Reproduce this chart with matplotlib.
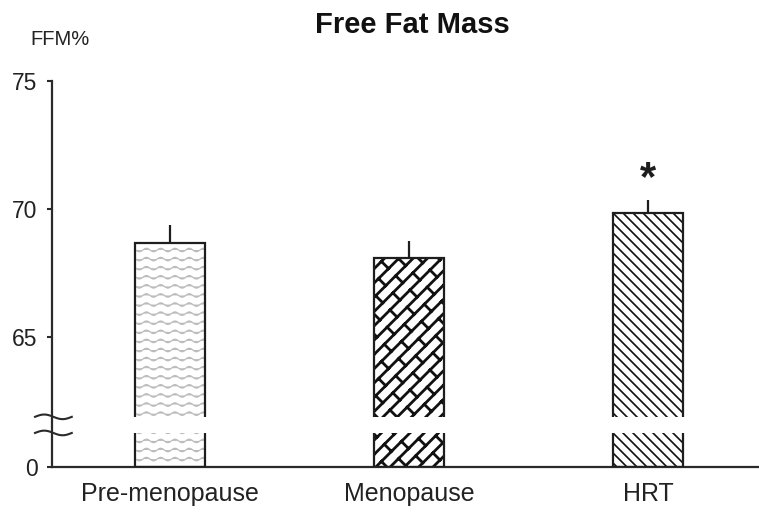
import warnings
warnings.filterwarnings("ignore")
import numpy as np
import matplotlib
matplotlib.use("Agg")
import matplotlib.pyplot as plt
import matplotlib.hatch as mhatch
from matplotlib.path import Path

# ---------------- data ----------------
categories = ["Pre-menopause", "Menopause", "HRT"]
ffm_mean = [68.67, 68.09, 69.84]
ffm_sem = [0.70, 0.66, 0.51]
significant = [False, False, True]
ytick_values = [0, 65, 70, 75]
ytick_labels = ["0", "65", "70", "75"]
title = "Free Fat Mass"
ylabel = "FFM%"

plt.rcParams['font.family'] = ['Liberation Sans', 'DejaVu Sans']


# ---------------- custom hatch textures ----------------
class _SegHatch(mhatch.HatchPatternBase):
    key = '?'

    def __init__(self, hatch, density):
        if hatch is not None and self.key in hatch:
            self.segs = [np.asarray(s, float) for s in self.build()]
            self.num_vertices = sum(len(s) for s in self.segs)
        else:
            self.segs = []
            self.num_vertices = 0

    def set_vertices_and_codes(self, vertices, codes):
        i = 0
        for s in self.segs:
            n = len(s)
            vertices[i:i + n] = s
            codes[i] = Path.MOVETO
            codes[i + 1:i + n] = Path.LINETO
            i += n


class WaveHatch(_SegHatch):
    key = 'w'

    def build(self):
        R, P, amp = 11, 7, 0.017
        x = np.linspace(-1.0 / P, 1 + 1.0 / P, (P + 2) * 24 + 1)
        segs = []
        for r in range(R):
            y0 = (r + 0.5) / R
            segs.append(np.column_stack([x, y0 + amp * np.sin(2 * np.pi * P * x)]))
        return segs


class BrickHatch(_SegHatch):
    key = 'b'

    def build(self):
        n, L = 7, 0.4
        segs = []
        for k in range(-n - 1, n + 2):
            d = k / n
            segs.append([(-0.1, -0.1 + d), (1.1, 1.1 + d)])
        for k in range(-n - 1, n + 1):
            d0, d1 = k / n, (k + 1) / n
            off = (k % 2) * L / 2
            for m in range(-6, 12):
                t = off + m * L
                p0 = ((t - d0) / 2, (t + d0) / 2)
                p1 = ((t - d1) / 2, (t + d1) / 2)
                pts = np.array([p0, p1])
                if pts.min() >= -0.3 and pts.max() <= 1.3:
                    segs.append([p0, p1])
        return segs


class DiagHatch(_SegHatch):
    key = 'd'

    def build(self):
        m = 10
        segs = []
        for k in range(-1, 2 * m + 2):
            c = k / m
            segs.append([(-0.1, c + 0.1), (c + 0.1, -0.1)])
        return segs


mhatch._hatch_types.extend([WaveHatch, BrickHatch, DiagHatch])

bar_hatches = ['w', 'b', 'd']
hatch_colors = ['#bcbcbc', '#111111', '#111111']
hatch_lws = [0.9, 2.0, 1.2]

# ---------------- broken y scale ----------------
ZERO_POS = 59.92
LIN = 61.0


def fwd(v):
    v = np.asarray(v, float)
    return np.where(v >= LIN, v, ZERO_POS + v * (LIN - ZERO_POS) / LIN)


def inv(u):
    u = np.asarray(u, float)
    return np.where(u >= LIN, u, (u - ZERO_POS) * LIN / (LIN - ZERO_POS))


# ---------------- figure ----------------
fig = plt.figure(figsize=(7.59, 5.14), dpi=100)
ax = fig.add_axes([52 / 759, 1 - 467 / 514, 1 - 52 / 759, (467 - 81) / 514])
ax.set_yscale('function', functions=(fwd, inv))

x = np.arange(len(categories))
width = 0.293

for i in range(len(categories)):
    with plt.rc_context({'hatch.linewidth': hatch_lws[i]}):
        ax.bar(x[i], ffm_mean[i], width, color='white', edgecolor=hatch_colors[i],
               linewidth=0, hatch=bar_hatches[i], zorder=2)

ax.bar(x, ffm_mean, width, fill=False, edgecolor='#1e1e1e', linewidth=1.6, zorder=4)
ax.errorbar(x, ffm_mean, yerr=[np.zeros(len(x)), ffm_sem], fmt='none',
            ecolor='#1e1e1e', elinewidth=1.6, capsize=0, zorder=4)

for i, sig in enumerate(significant):
    if sig:
        ax.annotate('*', xy=(x[i], ffm_mean[i] + ffm_sem[i]), xytext=(0, 7),
                    textcoords='offset points', ha='center', va='baseline',
                    fontsize=30, fontweight='bold', color='#1e1e1e')

# axis break band + squiggles
gap_lo, gap_hi = 61.25, 61.88
ax.axhspan(gap_lo, gap_hi, xmin=0.01, xmax=1.0, color='white', zorder=5, linewidth=0)
bt = matplotlib.transforms.blended_transform_factory(ax.transAxes, ax.transData)
u = np.linspace(0, 1, 60)
for yv in (gap_lo, gap_hi):
    ax.plot(-0.024 + 0.052 * u, yv + 0.09 * np.sin(2 * np.pi * u), transform=bt,
            color='#2a2a2a', lw=1.5, clip_on=False, zorder=6)

ax.set_xlim(-0.494, 2.464)
ax.set_ylim(0, 75)
ax.set_yticks(ytick_values)
ax.set_yticklabels(ytick_labels)
ax.yaxis.set_minor_locator(matplotlib.ticker.NullLocator())
ax.set_xticks(x)
ax.set_xticklabels(categories)

for s in ('top', 'right'):
    ax.spines[s].set_visible(False)
for s in ('left', 'bottom'):
    ax.spines[s].set_linewidth(1.6)
    ax.spines[s].set_color('#2a2a2a')

ax.tick_params(axis='y', labelsize=16.5, length=3.5, width=1.5, pad=7,
               colors='#2a2a2a', labelcolor='#222222')
ax.tick_params(axis='x', labelsize=18, length=0, pad=11, labelcolor='#222222')

fig.text(412 / 759, 1 - 33 / 514, title, ha='center', va='baseline',
         fontsize=21, fontweight='bold', color='#111111')
fig.text(60 / 759, 1 - 45 / 514, ylabel, ha='center', va='baseline',
         fontsize=14.5, color='#222222')

fig.savefig('out.png', dpi=100)
